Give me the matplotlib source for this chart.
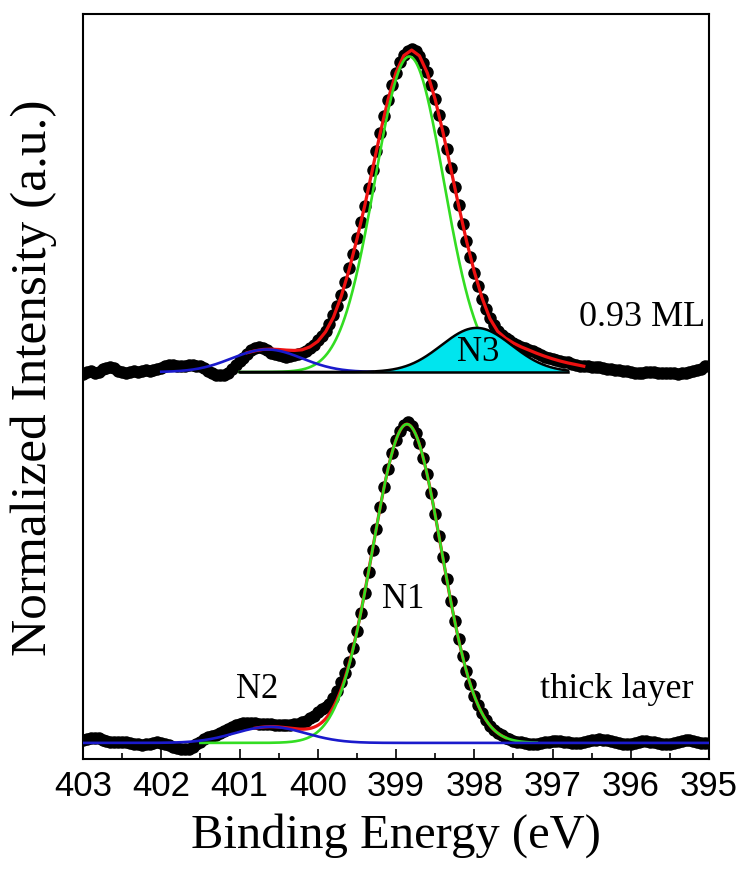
import numpy as np
import matplotlib
matplotlib.use("Agg")
import matplotlib.pyplot as plt

# Measured spectra, N 1s, 0.05 eV step from 403.0 down to 395.0 eV
energy = np.linspace(403.0, 395.0, 161)

top_data = [
    -0.005, 0.000, 0.002, -0.003, 0.000, 0.008, 0.014, 0.016, 0.012, 0.004,
    0.000, -0.002, 0.000, 0.002, 0.000, 0.003, 0.006, 0.004, 0.006, 0.010,
    0.014, 0.018, 0.021, 0.022, 0.020, 0.018, 0.020, 0.022, 0.021, 0.019,
    0.018, 0.012, 0.004, -0.004, -0.008, -0.010, -0.009, -0.004, 0.008, 0.022,
    0.035, 0.045, 0.055, 0.068, 0.076, 0.079, 0.075, 0.067, 0.060, 0.056,
    0.052, 0.049, 0.048, 0.050, 0.053, 0.056, 0.060, 0.066, 0.075, 0.085,
    0.098, 0.112, 0.128, 0.150, 0.176, 0.205, 0.240, 0.280, 0.322, 0.368,
    0.415, 0.465, 0.516, 0.572, 0.628, 0.686, 0.742, 0.796, 0.846, 0.890,
    0.930, 0.962, 0.985, 0.998, 1.004, 0.996, 0.982, 0.960, 0.932, 0.892,
    0.848, 0.798, 0.748, 0.692, 0.634, 0.576, 0.518, 0.460, 0.406, 0.356,
    0.308, 0.266, 0.228, 0.196, 0.168, 0.145, 0.128, 0.116, 0.106, 0.098,
    0.091, 0.085, 0.079, 0.074, 0.069, 0.064, 0.058, 0.053, 0.048, 0.044,
    0.040, 0.036, 0.034, 0.032, 0.030, 0.026, 0.022, 0.020, 0.019, 0.018,
    0.016, 0.016, 0.015, 0.012, 0.010, 0.008, 0.006, 0.005, 0.004, 0.002,
    0.000, -0.002, -0.003, -0.002, 0.000, 0.001, -0.001, -0.003, -0.004, -0.003,
    -0.002, -0.004, -0.005, -0.004, -0.002, 0.000, 0.003, 0.006, 0.008, 0.018,
    0.020,
]

bottom_data = [
    0.008, 0.012, 0.014, 0.015, 0.014, 0.010, 0.006, 0.004, 0.003, 0.002,
    0.002, 0.003, 0.001, -0.002, -0.004, -0.005, -0.004, -0.002, 0.000, 0.002,
    0.001, -0.003, -0.008, -0.013, -0.016, -0.019, -0.020, -0.018, -0.012, -0.004,
    0.004, 0.012, 0.018, 0.022, 0.026, 0.030, 0.036, 0.043, 0.050, 0.056,
    0.060, 0.062, 0.063, 0.062, 0.061, 0.060, 0.060, 0.059, 0.058, 0.057,
    0.056, 0.055, 0.055, 0.056, 0.058, 0.060, 0.064, 0.069, 0.076, 0.084,
    0.096, 0.105, 0.112, 0.122, 0.138, 0.160, 0.188, 0.218, 0.250, 0.294,
    0.348, 0.405, 0.465, 0.532, 0.598, 0.665, 0.732, 0.796, 0.852, 0.901,
    0.940, 0.970, 0.988, 0.996, 0.984, 0.962, 0.930, 0.886, 0.834, 0.775,
    0.711, 0.644, 0.576, 0.508, 0.442, 0.380, 0.322, 0.270, 0.224, 0.183,
    0.147, 0.117, 0.092, 0.071, 0.054, 0.041, 0.031, 0.023, 0.016, 0.011,
    0.007, 0.004, 0.002, 0.000, -0.002, -0.003, -0.002, 0.000, 0.002, 0.004,
    0.006, 0.007, 0.006, 0.004, 0.002, 0.000, -0.001, 0.000, 0.003, 0.006,
    0.008, 0.010, 0.011, 0.010, 0.008, 0.005, 0.002, 0.000, -0.002, -0.003,
    -0.002, 0.000, 0.003, 0.005, 0.006, 0.004, 0.002, 0.000, -0.002, -0.003,
    -0.002, 0.000, 0.003, 0.006, 0.008, 0.009, 0.007, 0.004, 0.001, -0.001,
    0.000,
]

# Total fit envelope of the 0.93 ML spectrum, 0.1 eV step 400.9 -> 396.6 eV
fit_top_energy = np.linspace(400.9, 396.6, 44)
fit_top = [
    0.060, 0.066, 0.070, 0.071, 0.070, 0.068, 0.067, 0.069, 0.078, 0.095,
    0.125, 0.170, 0.235, 0.317, 0.412, 0.516, 0.630, 0.744, 0.848, 0.930,
    0.983, 1.000, 0.982, 0.929, 0.847, 0.745, 0.632, 0.517, 0.408, 0.312,
    0.230, 0.166, 0.126, 0.105, 0.090, 0.078, 0.068, 0.058, 0.049, 0.041,
    0.034, 0.028, 0.023, 0.018,
]

# Gaussian components (N1, N2, N3): centre (eV), height, sigma (eV)
top_centers = [398.83, 400.65, 397.97]
top_heights = [0.98, 0.07, 0.137]
top_sigmas = [0.44, 0.45, 0.45]

bottom_centers = [398.86, 400.61]
bottom_heights = [0.99, 0.05]
bottom_sigmas = [0.44, 0.45]

TOP_OFFSET = 1.152
SERIF = "Liberation Serif"
SANS = "Liberation Sans"
DOT = 9


def gauss(e, center, height, sigma):
    return height * np.exp(-(e - center) ** 2 / (2 * sigma ** 2))


def draw_top(ax):
    off = TOP_OFFSET
    ax.plot(energy, np.array(top_data) + off, 'o', color='black',
            markersize=DOT, markeredgewidth=0, zorder=2)
    ax.plot(fit_top_energy, np.array(fit_top) + off, color='#ee1111',
            linewidth=2.3, zorder=3)

    e = np.linspace(401.0, 397.3, 400)
    n1 = gauss(e, top_centers[0], top_heights[0], top_sigmas[0])
    ax.plot(e, n1 + off, color='#33dd22', linewidth=1.9, zorder=4)

    e = np.linspace(402.0, 399.3, 300)
    n2 = gauss(e, top_centers[1], top_heights[1], top_sigmas[1])
    ax.plot(e, n2 + off, color='#1a1acc', linewidth=1.9, zorder=4)

    # N3 filled component with black outline
    e = np.linspace(401.0, 396.8, 400)
    n3 = gauss(e, top_centers[2], top_heights[2], top_sigmas[2])
    ax.fill_between(e, off, n3 + off, color='#00e5ee', linewidth=0,
                    zorder=5)
    ax.plot(e, n3 + off, color='black', linewidth=1.8, zorder=6)
    ax.plot([e[0], e[-1]], [off, off], color='black', linewidth=1.8,
            zorder=6)


def draw_bottom(ax):
    ax.plot(energy, bottom_data, 'o', color='black',
            markersize=DOT, markeredgewidth=0, zorder=2)

    e = np.linspace(400.8, 397.6, 400)
    total = (gauss(e, bottom_centers[0], bottom_heights[0], bottom_sigmas[0])
             + gauss(e, bottom_centers[1], bottom_heights[1],
                     bottom_sigmas[1]))
    ax.plot(e, total, color='#ee1111', linewidth=2.3, zorder=3)

    e = np.linspace(401.5, 397.2, 400)
    n1 = gauss(e, bottom_centers[0], bottom_heights[0], bottom_sigmas[0])
    ax.plot(e, n1, color='#33dd22', linewidth=1.9, zorder=4)

    e = np.linspace(403.0, 395.0, 600)
    n2 = gauss(e, bottom_centers[1], bottom_heights[1], bottom_sigmas[1])
    ax.plot(e, n2, color='#1a1acc', linewidth=1.9, zorder=5)


def main():
    fig = plt.figure(figsize=(7.4, 8.82), dpi=100)
    ax = fig.add_axes([83 / 740, 123 / 882, 626 / 740, 745 / 882])

    draw_top(ax)
    draw_bottom(ax)

    ax.set_xlim(403, 395)
    ax.set_ylim(-0.05, 2.264)
    ax.set_yticks([])
    ax.set_xticks(np.arange(395, 404, 1))
    ax.set_xticks(np.arange(395.5, 403, 1), minor=True)
    ax.tick_params(axis='x', which='major', direction='in', length=7,
                   width=1.2, pad=8)
    ax.tick_params(axis='x', which='minor', direction='in', length=4,
                   width=1.2)
    for lab in ax.get_xticklabels():
        lab.set_fontfamily(SANS)
        lab.set_fontsize(25)
    for spine in ax.spines.values():
        spine.set_linewidth(1.5)

    # Labels of the spectra and components
    ax.text(395.05, 1.32, "0.93 ML", family=SERIF, fontsize=26,
            ha='right', va='center')
    ax.text(397.95, 1.214, "N3", family=SERIF, fontsize=25,
            ha='center', va='center', zorder=7)
    ax.text(398.91, 0.444, "N1", family=SERIF, fontsize=25,
            ha='center', va='center')
    ax.text(400.77, 0.165, "N2", family=SERIF, fontsize=25,
            ha='center', va='center')
    ax.text(395.2, 0.165, "thick layer", family=SERIF, fontsize=26,
            ha='right', va='center')

    fig.text(396 / 740, 1 - 836 / 882, "Binding Energy (eV)", family=SERIF,
             fontsize=35, ha='center', va='center')
    fig.text(34 / 740, 1 - 378 / 882, "Normalized Intensity (a.u.)",
             family=SERIF, fontsize=37, ha='center', va='center',
             rotation=90)

    fig.savefig("out.png", dpi=100)


if __name__ == "__main__":
    main()
